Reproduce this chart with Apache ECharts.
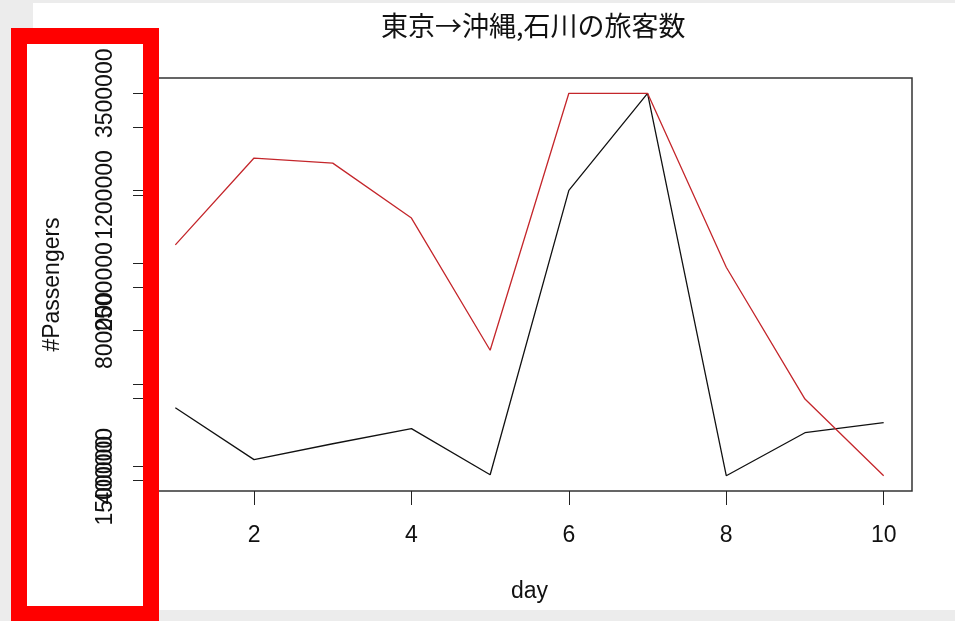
<!DOCTYPE html>
<html>
<head>
<meta charset="utf-8">
<script src="https://cdn.jsdelivr.net/npm/echarts@6/dist/echarts.min.js"></script>
<style>
  html, body { margin: 0; padding: 0; background: #ececec; }
  #main { width: 955px; height: 621px; }
</style>
</head>
<body>
<div id="main"></div>
<script>
// 数据
var days = [1, 2, 3, 4, 5, 6, 7, 8, 9, 10];
var okinawa = [1877000, 1609000, 1691000, 1769000, 1531000, 2999000, 3500000, 1526000, 1748000, 1800000];
var ishikawa = [1053000, 1309000, 1294000, 1132000, 742000, 1500000, 1500000, 987000, 598000, 372000];

// 刻度
var xTicks = [2, 4, 6, 8, 10];
var okiTicks = [1500000, 2000000, 2500000, 3000000, 3500000];
var okiLabels = [1500000, 2500000, 3500000];
var ishTicks = [400000, 600000, 800000, 1000000, 1200000, 1400000];
var ishLabels = [400000, 800000, 1200000];

// R 的默认范围 (两端各留 4%)
function padRange(arr) {
  var lo = Math.min.apply(null, arr);
  var hi = Math.max.apply(null, arr);
  var d = (hi - lo) * 0.04;
  return [lo - d, hi + d];
}

function pairs(xs, ys) {
  var out = [];
  for (var i = 0; i < xs.length; i++) {
    out.push([xs[i], ys[i]]);
  }
  return out;
}

var xr = padRange(days);
var r1 = padRange(okinawa);
var r2 = padRange(ishikawa);

var txt = { color: '#111', fontFamily: 'Liberation Sans', fontSize: 23 };

function yAxisOf(range, ticks, labels, name) {
  return {
    type: 'value',
    position: 'left',
    min: range[0],
    max: range[1],
    name: name,
    nameLocation: 'middle',
    nameGap: 83,
    nameTextStyle: txt,
    axisLine: { show: false },
    splitLine: { show: false },
    axisTick: { show: true, length: 14, customValues: ticks, lineStyle: { color: '#222' } },
    axisLabel: {
      rotate: 90,
      margin: 30,
      customValues: labels,
      color: txt.color, fontFamily: txt.fontFamily, fontSize: txt.fontSize,
      formatter: function (v) { return String(v); }
    }
  };
}

var chart = echarts.init(document.getElementById('main'), null, { renderer: 'canvas' });

var option = {
  backgroundColor: '#ececec',
  animation: false,
  title: {
    text: '東京→沖縄,石川の旅客数',
    left: 376,
    top: 7,
    textStyle: { fontFamily: 'Noto Sans CJK JP', fontSize: 27, fontWeight: 'normal', color: '#111' }
  },
  grid: {
    left: 147, right: 43, top: 78, bottom: 130,
    show: true, borderColor: '#333', borderWidth: 1.5, backgroundColor: 'transparent'
  },
  graphic: [
    { type: 'rect', z: -100, shape: { x: 33, y: 3, width: 922, height: 607 }, style: { fill: '#fff' } },
    { type: 'rect', z: -100, shape: { x: 11, y: 28, width: 148, height: 593 }, style: { fill: '#fff' } },
    // 红框
    { type: 'rect', z: 100, shape: { x: 19, y: 36, width: 132, height: 578 }, style: { fill: 'none', stroke: '#ff0000', lineWidth: 16 } }
  ],
  xAxis: {
    type: 'value',
    min: xr[0],
    max: xr[1],
    name: 'day',
    nameLocation: 'middle',
    nameGap: 89,
    nameTextStyle: txt,
    axisLine: { show: false },
    splitLine: { show: false },
    axisTick: { show: true, length: 14, customValues: xTicks, lineStyle: { color: '#222' } },
    axisLabel: {
      margin: 33,
      customValues: xTicks,
      color: txt.color, fontFamily: txt.fontFamily, fontSize: txt.fontSize
    }
  },
  yAxis: [
    yAxisOf(r1, okiTicks, okiLabels, '#Passengers'),
    yAxisOf(r2, ishTicks, ishLabels, '')
  ],
  series: [
    {
      name: '沖縄',
      type: 'line',
      yAxisIndex: 0,
      data: pairs(days, okinawa),
      showSymbol: false,
      lineStyle: { color: '#111', width: 1.3 }
    },
    {
      name: '石川',
      type: 'line',
      yAxisIndex: 1,
      data: pairs(days, ishikawa),
      showSymbol: false,
      lineStyle: { color: '#c4262b', width: 1.3 }
    }
  ]
};

chart.setOption(option);
</script>
</body>
</html>
